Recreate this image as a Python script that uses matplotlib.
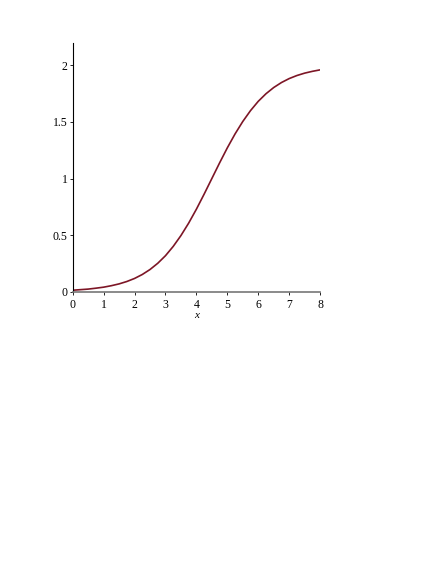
import matplotlib.pyplot as plt

# values
x_vals = [0, 0.25, 0.5, 0.75, 1, 1.25, 1.5, 1.75, 2, 2.25, 2.5, 2.75, 3, 3.25, 3.5, 3.75,
          4, 4.25, 4.5, 4.75, 5, 5.25, 5.5, 5.75, 6, 6.25, 6.5, 6.75, 7, 7.25, 7.5, 7.75, 8]
y_vals = [0.013, 0.018, 0.023, 0.031, 0.040, 0.053, 0.069, 0.090, 0.117, 0.152, 0.196, 0.251,
          0.318, 0.400, 0.496, 0.606, 0.729, 0.862, 1.0, 1.138, 1.271, 1.394, 1.504, 1.600,
          1.682, 1.749, 1.804, 1.848, 1.883, 1.910, 1.931, 1.947, 1.960]

x_ticks = [0, 1, 2, 3, 4, 5, 6, 7, 8]
y_ticks = [0, 0.5, 1, 1.5, 2]
y_tick_labels = ["0", "0.5", "1", "1.5", "2"]

plt.rcParams["font.family"] = "Liberation Serif"

fig = plt.figure(figsize=(4.36, 5.64), dpi=100)
ax = fig.add_axes([0.1667, 0.4828, 0.5675, 0.4415])

ax.plot(x_vals, y_vals, color="#7d1626", linewidth=1.2)

ax.set_xlim(0, 8)
ax.set_ylim(0, 2.2)
ax.set_xticks(x_ticks)
ax.set_yticks(y_ticks)
ax.set_yticklabels(y_tick_labels)
ax.tick_params(labelsize=8.5, length=2, width=0.6)
ax.tick_params(axis="x", pad=3.5)
ax.tick_params(axis="y", pad=1.5)

ax.spines["top"].set_visible(False)
ax.spines["right"].set_visible(False)
ax.spines["left"].set_linewidth(0.8)
ax.spines["bottom"].set_color("#777777")
ax.spines["bottom"].set_linewidth(1.2)

ax.set_xlabel("x", fontsize=8, style="italic", labelpad=0)

fig.savefig("out.png", dpi=100)
